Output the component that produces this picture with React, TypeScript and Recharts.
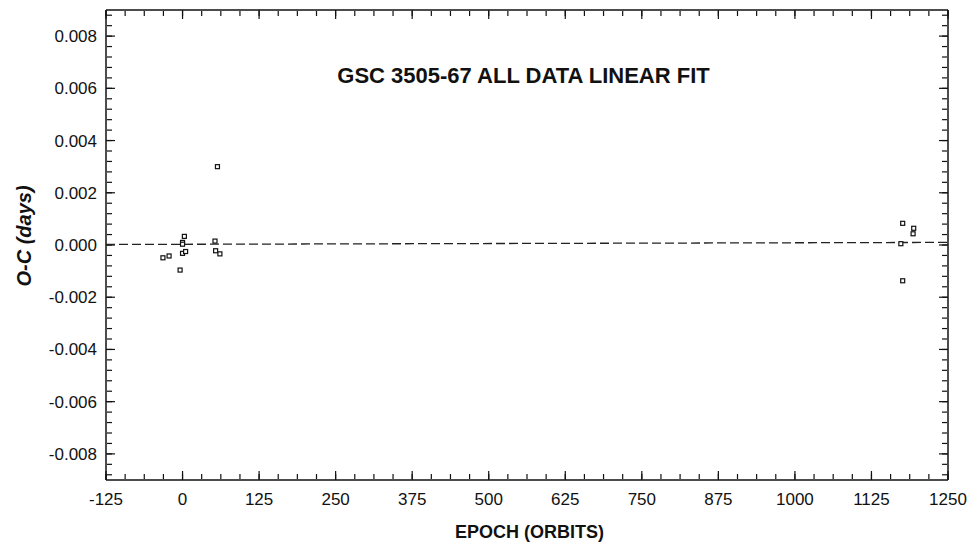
import { ScatterChart, Scatter, XAxis, YAxis } from "recharts";

// O-C residuals
const epochs = [-32, -22, -4, 0, 0, 0, 3, 5, 53, 54, 57, 61, 1173, 1176, 1176, 1193, 1194];
const ocDays = [
  -0.00049, -0.00042, -0.00096, 0.0001, 0.00003, -0.00032, 0.00033, -0.00025,
  0.00015, -0.00022, 0.003, -0.00034, 0.00005, 0.00083, -0.00137, 0.00043, 0.00064,
];

const fitEpochs = [-125, 1250];
const fitDays = [0.00002, 0.0001];

const xMajor = [-125, 0, 125, 250, 375, 500, 625, 750, 875, 1000, 1125, 1250];
const yMajor = [-0.008, -0.006, -0.004, -0.002, 0, 0.002, 0.004, 0.006, 0.008];
const xDomain = [-125, 1250];
const yDomain = [-0.009, 0.009];

const xMinor: number[] = [];
for (let i = 0; i <= 44; i++) xMinor.push(-125 + i * 31.25);
const yMinor: number[] = [];
for (let i = 0; i <= 44; i++) yMinor.push(-0.0088 + i * 0.0004);

const points = epochs.map((e, i) => ({ epoch: e, oc: ocDays[i] }));
const fit = fitEpochs.map((e, i) => ({ epoch: e, oc: fitDays[i] }));

const font = "'Liberation Sans', Arial, Helvetica, sans-serif";
const ink = "#111";

const Square = (props: any) => {
  const { cx, cy } = props;
  if (cx == null || cy == null) return null;
  return <rect x={cx - 2} y={cy - 2} width={4} height={4} fill="#fff" stroke={ink} strokeWidth={1.2} />;
};

const NoDot = () => null;
const NoLabel = () => <g />;

// axis pairs that only carry the inward tick marks
const tickPairs = [
  ["bMaj", "lMaj"],
  ["bMin", "lMin"],
  ["tMaj", "rMaj"],
  ["tMin", "rMin"],
];

export default function App() {
  const frame = { stroke: ink, strokeWidth: 1.5 };
  const tickLine = { stroke: ink, strokeWidth: 1.2 };
  return (
    <div style={{ position: "absolute", left: 0, top: 0, width: 971, height: 547, background: "#fff" }}>
      <ScatterChart width={971} height={547} margin={{ top: 10, right: 23, bottom: 0, left: 0 }}>
        <XAxis
          xAxisId="x"
          dataKey="epoch"
          type="number"
          domain={xDomain}
          ticks={xMajor}
          interval={0}
          height={67}
          tickSize={0}
          tickMargin={13}
          tickLine={false}
          axisLine={false}
          allowDataOverflow
          tick={{ fill: ink, fontSize: 17, fontFamily: font }}
        />
        <YAxis
          yAxisId="y"
          dataKey="oc"
          type="number"
          domain={yDomain}
          ticks={yMajor}
          interval={0}
          width={106}
          tickSize={0}
          tickMargin={9}
          tickLine={false}
          axisLine={false}
          allowDataOverflow
          tickFormatter={(v: number) => v.toFixed(3)}
          tick={{ fill: ink, fontSize: 17, fontFamily: font }}
        />
        {/* inward tick marks on all four sides */}
        <XAxis xAxisId="bMaj" dataKey="epoch" type="number" orientation="bottom" mirror height={1} domain={xDomain} allowDataOverflow ticks={xMajor} interval={0} tick={NoLabel} tickSize={9} tickLine={tickLine} axisLine={frame} />
        <XAxis xAxisId="bMin" dataKey="epoch" type="number" orientation="bottom" mirror height={1} domain={xDomain} allowDataOverflow ticks={xMinor} interval={0} tick={NoLabel} tickSize={5} tickLine={tickLine} axisLine={false} />
        <XAxis xAxisId="tMaj" dataKey="epoch" type="number" orientation="top" mirror height={1} domain={xDomain} allowDataOverflow ticks={xMajor} interval={0} tick={NoLabel} tickSize={9} tickLine={tickLine} axisLine={frame} />
        <XAxis xAxisId="tMin" dataKey="epoch" type="number" orientation="top" mirror height={1} domain={xDomain} allowDataOverflow ticks={xMinor} interval={0} tick={NoLabel} tickSize={5} tickLine={tickLine} axisLine={false} />
        <YAxis yAxisId="lMaj" dataKey="oc" type="number" orientation="left" mirror width={1} domain={yDomain} allowDataOverflow ticks={yMajor} interval={0} tick={NoLabel} tickSize={9} tickLine={tickLine} axisLine={frame} />
        <YAxis yAxisId="lMin" dataKey="oc" type="number" orientation="left" mirror width={1} domain={yDomain} allowDataOverflow ticks={yMinor} interval={0} tick={NoLabel} tickSize={5} tickLine={tickLine} axisLine={false} />
        <YAxis yAxisId="rMaj" dataKey="oc" type="number" orientation="right" mirror width={1} domain={yDomain} allowDataOverflow ticks={yMajor} interval={0} tick={NoLabel} tickSize={9} tickLine={tickLine} axisLine={frame} />
        <YAxis yAxisId="rMin" dataKey="oc" type="number" orientation="right" mirror width={1} domain={yDomain} allowDataOverflow ticks={yMinor} interval={0} tick={NoLabel} tickSize={5} tickLine={tickLine} axisLine={false} />
        {tickPairs.map(([xa, ya]) => (
          <Scatter key={xa} xAxisId={xa} yAxisId={ya} data={fit} shape={NoDot} isAnimationActive={false} />
        ))}
        <Scatter
          xAxisId="x"
          yAxisId="y"
          data={fit}
          shape={NoDot}
          line={{ stroke: "#222", strokeWidth: 1.3, strokeDasharray: "9 4" }}
          isAnimationActive={false}
        />
        <Scatter xAxisId="x" yAxisId="y" data={points} shape={Square} isAnimationActive={false} />
      </ScatterChart>
      <svg width={971} height={547} style={{ position: "absolute", left: 0, top: 0, pointerEvents: "none" }}>
        <text x={523.5} y={83} textAnchor="middle" fontFamily={font} fontWeight="bold" fontSize={22} fill={ink}>
          GSC 3505-67 ALL DATA LINEAR FIT
        </text>
        <text x={529.5} y={538} textAnchor="middle" fontFamily={font} fontWeight="bold" fontSize={18} fill={ink}>
          EPOCH (ORBITS)
        </text>
        <text
          transform="translate(31,236) rotate(-90)"
          textAnchor="middle"
          fontFamily={font}
          fontWeight="bold"
          fontStyle="italic"
          fontSize={20}
          fill={ink}
        >
          O-C (days)
        </text>
      </svg>
    </div>
  );
}
